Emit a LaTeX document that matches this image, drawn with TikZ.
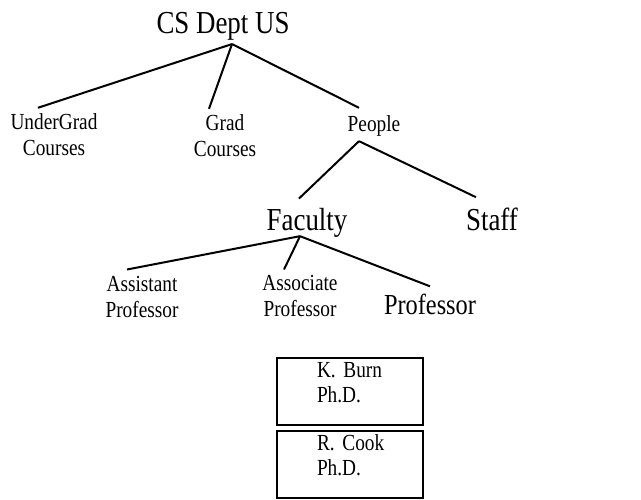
\documentclass[tikz,border=0pt]{standalone}
\usepackage{fontspec}
\setmainfont{Liberation Serif}[FakeStretch=0.84]
\usetikzlibrary{calc}

\begin{document}
\begin{tikzpicture}[
    x=0.75pt, y=-0.75pt,
    bigtext/.style={font=\fontsize{24}{28}\selectfont, inner sep=0pt, anchor=base},
    midtext/.style={font=\fontsize{21.75}{26}\selectfont, inner sep=0pt, anchor=base},
    smalltext/.style={font=\fontsize{17.25}{19.5}\selectfont, inner sep=0pt, anchor=base, align=center},
    namebox/.style={draw, line width=1.8pt, font=\fontsize{17.25}{19}\selectfont, text width=79.5pt, inner xsep=15pt, inner ysep=0pt, text height=14.25pt, text depth=36pt, align=left, anchor=base, execute at begin node={\leftskip=15pt\relax}},
    branch/.style={line width=1.5pt}
]
\useasboundingbox (0,0) rectangle (641,499);

% Top level
\node[bigtext] (dept) at (223,34) {CS Dept US};
\node[smalltext] (ugrad) at (54,155) {UnderGrad\\Courses};
\node[smalltext] (grad) at (225,156) {Grad\\Courses};
\node[smalltext] (people) at (374,132) {People};
\draw[branch] ($(dept.south)+(9,3)$) -- ($(ugrad.north)+(-16,-5)$);
\draw[branch] ($(dept.south)+(9,3)$) -- ($(grad.north)+(-16,-5)$);
\draw[branch] ($(dept.south)+(9,3)$) -- ($(people.north)+(-15,-8)$);

% People
\node[bigtext] (faculty) at (307,230) {Faculty};
\node[bigtext] (staff) at (492,230) {Staff};
\draw[branch] ($(people.south)+(-15,4)$) -- ($(faculty.north)+(-8,-9)$);
\draw[branch] ($(people.south)+(-15,4)$) -- ($(staff.north)+(-16,-10)$);

% Faculty ranks
\node[smalltext] (asst) at (142,317) {Assistant\\Professor};
\node[smalltext] (assoc) at (300,316) {Associate\\Professor};
\node[midtext] (prof) at (430,314) {Professor};
\draw[branch] ($(faculty.south)+(-7,-1)$) -- ($(asst.north)+(-15,-6)$);
\draw[branch] ($(faculty.south)+(-7,-1)$) -- ($(assoc.north)+(-16,-5)$);
\draw[branch] ($(faculty.south)+(-7,-1)$) -- ($(prof.north)+(0,-7)$);

% Members
\node[namebox] (burn) at (350,377) {K. Burn\\Ph.D.};
\node[namebox] (cook) at (350,450) {R. Cook\\Ph.D.};

\end{tikzpicture}
\end{document}
